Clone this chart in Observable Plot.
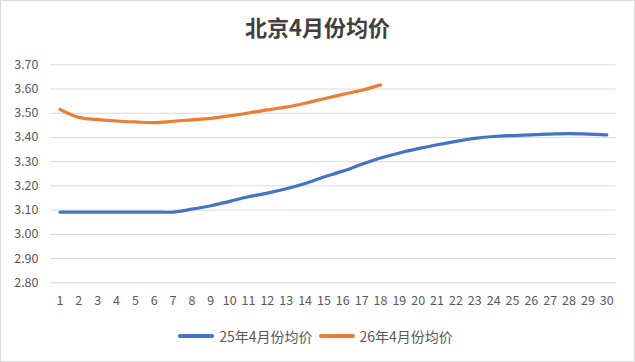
<!DOCTYPE html>
<html>
<head>
<meta charset="utf-8">
<script src="https://cdn.jsdelivr.net/npm/d3@7"></script>
<script src="https://cdn.jsdelivr.net/npm/@observablehq/plot@0.6"></script>
<style>
  body { margin: 0; background: #fff; }
  #wrap { position: relative; width: 635px; height: 362px; overflow: hidden; background: #fff;
          font-family: "Noto Sans CJK SC", "Noto Sans", sans-serif; }
  #frame { position: absolute; left: 0; top: 0; width: 635px; height: 362px; box-sizing: border-box;
           border: 1px solid #d9d9d9; pointer-events: none; }
  #title { position: absolute; left: 0; top: 11px; width: 635px; text-align: center;
           font-size: 22px; font-weight: bold; color: #404040; line-height: 30px; }
  #chart { position: absolute; left: 0; top: 50px; }
  #legend { position: absolute; left: 0; top: 324px; width: 635px; display: flex; justify-content: center;
            align-items: center; font-size: 14px; color: #595959; line-height: 24px; padding-right: 4px; box-sizing: border-box; }
  .item { display: flex; align-items: center; margin: 0 3px; }
  .sw { width: 36px; height: 4px; border-radius: 2px; margin-right: 5px; }
</style>
</head>
<body>
<div id="wrap">
  <div id="title">北京4月份均价</div>
  <div id="chart"></div>
  <div id="legend"></div>
  <div id="frame"></div>
</div>
<script>
const days = [1,2,3,4,5,6,7,8,9,10,11,12,13,14,15,16,17,18,19,20,21,22,23,24,25,26,27,28,29,30];
const seriesNames = ["25年4月份均价", "26年4月份均价"];
const seriesColors = ["#4472C4", "#ED7D31"];
const price25 = [3.092,3.092,3.092,3.092,3.092,3.092,3.092,3.104,3.118,3.136,3.155,3.170,3.188,3.210,3.237,3.261,3.289,3.315,3.336,3.354,3.370,3.384,3.396,3.404,3.408,3.411,3.414,3.416,3.414,3.411];
const price26 = [3.516,3.483,3.474,3.468,3.464,3.461,3.467,3.473,3.479,3.489,3.501,3.514,3.525,3.541,3.560,3.578,3.595,3.617];
const yTicks = [2.8,2.9,3.0,3.1,3.2,3.3,3.4,3.5,3.6,3.7];

const data25 = price25.map((v, i) => ({day: days[i], value: v, series: seriesNames[0]}));
const data26 = price26.map((v, i) => ({day: days[i], value: v, series: seriesNames[1]}));

const chart = Plot.plot({
  width: 635,
  height: 270,
  marginTop: 14.3,
  marginBottom: 37.7,
  marginLeft: 50,
  marginRight: 19.3,
  style: {fontFamily: "'Noto Sans CJK SC', 'Noto Sans', sans-serif", fontSize: "12.5px", color: "#595959", background: "transparent"},
  x: {type: "point", domain: days, padding: 0.5, round: false, label: null},
  y: {domain: [2.8, 3.7], label: null},
  marks: [
    Plot.ruleY(yTicks, {stroke: "#d9d9d9", strokeWidth: 1, strokeOpacity: 1}),
    Plot.axisY(yTicks, {tickSize: 0, tickPadding: 12, tickFormat: d3.format(".2f"), label: null, fill: "#595959"}),
    Plot.axisX(days, {tickSize: 0, tickPadding: 13, label: null, fill: "#595959"}),
    Plot.line(data25, {x: "day", y: "value", stroke: seriesColors[0], strokeWidth: 3.2, curve: "catmull-rom", strokeLinecap: "round"}),
    Plot.line(data26, {x: "day", y: "value", stroke: seriesColors[1], strokeWidth: 3.2, curve: "catmull-rom", strokeLinecap: "round"})
  ]
});
document.getElementById("chart").appendChild(chart);

const legend = document.getElementById("legend");
seriesNames.forEach((name, i) => {
  const item = document.createElement("div");
  item.className = "item";
  const sw = document.createElement("div");
  sw.className = "sw";
  sw.style.background = seriesColors[i];
  const t = document.createElement("span");
  t.textContent = name;
  item.appendChild(sw);
  item.appendChild(t);
  legend.appendChild(item);
});
</script>
</body>
</html>
